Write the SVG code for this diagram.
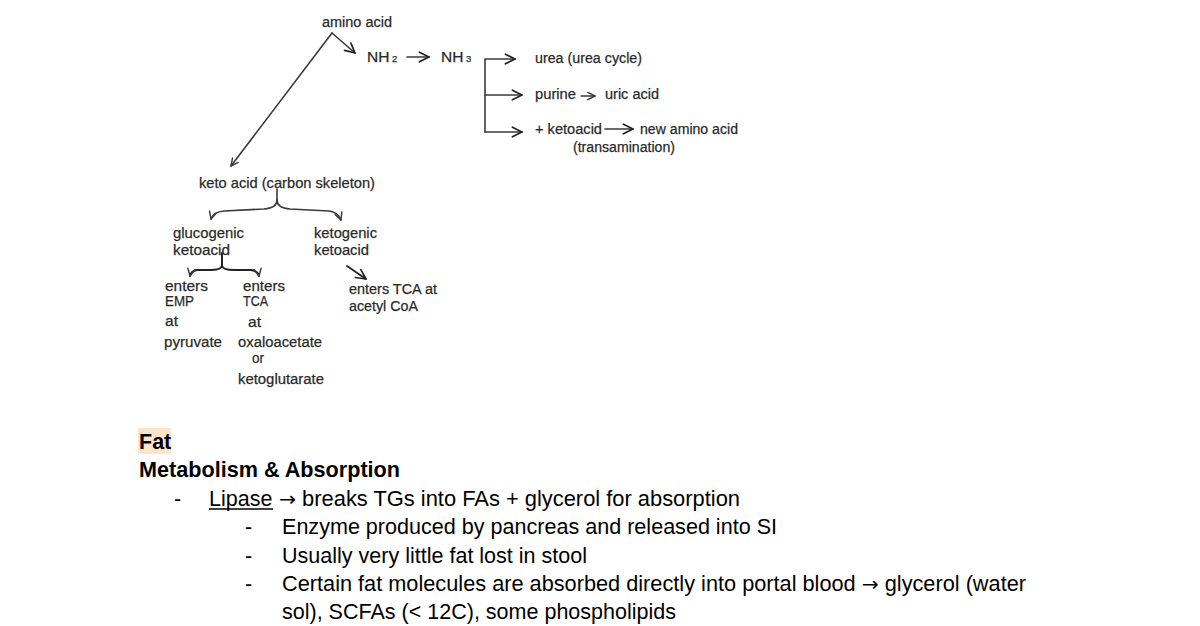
<svg xmlns="http://www.w3.org/2000/svg" width="1200" height="626" viewBox="0 0 1200 626">
<style>
.d{font-family:"Liberation Sans",Arial,sans-serif;font-size:15.5px;fill:#262626;stroke:#333;stroke-width:0.25}
.s{font-size:9.5px}
.b{font-family:"Liberation Sans",Arial,"DejaVu Sans",sans-serif;font-size:21.5px;fill:#000}
.bold{font-weight:bold}
.arr{font-family:"DejaVu Sans",sans-serif;font-size:20px}
.ln{fill:none;stroke:#3a3a3a;stroke-width:1.6;stroke-linecap:round;stroke-linejoin:round}
</style>
<defs>
<marker id="ah" viewBox="0 0 10 10" refX="9" refY="5" markerWidth="9" markerHeight="9" markerUnits="userSpaceOnUse" orient="auto">
<path d="M1,1 L9,5 L1,9" fill="none" stroke="#3a3a3a" stroke-width="1.6" stroke-linecap="round" stroke-linejoin="round"/>
</marker>
<marker id="ahs" viewBox="0 0 10 10" refX="9" refY="5" markerWidth="12" markerHeight="12" markerUnits="userSpaceOnUse" orient="auto">
<path d="M1,1 L9,5 L1,9" fill="none" stroke="#222" stroke-width="1.4" stroke-linecap="round" stroke-linejoin="round"/>
</marker>
</defs>
<rect width="1200" height="626" fill="#fff"/>
<g id="connectors">
<path class="ln" d="M332,33 L231,166" marker-end="url(#ah)"/>
<path class="ln" d="M332,33 L355,53" marker-end="url(#ahs)"/>
<path class="ln" d="M407,57 L429,57" marker-end="url(#ahs)"/>
<path class="ln" d="M485,132 L485,59 L515,59" marker-end="url(#ahs)"/>
<path class="ln" d="M485,95 L522,95" marker-end="url(#ahs)"/>
<path class="ln" d="M485,132 L522,132" marker-end="url(#ahs)"/>
<path class="ln" d="M581,96 L595,96" marker-end="url(#ah)"/>
<path class="ln" d="M605,129 L633,129" marker-end="url(#ahs)"/>
<path class="ln" d="M277,189 L277,200 Q277,208 264,209 L224,211 Q213,212 211,219" marker-end="url(#ah)"/>
<path class="ln" d="M277,200 Q277,208 290,209 L329,211 Q338,212 341,220" marker-end="url(#ah)"/>
<path class="ln" d="M222,253 L222,266 Q221,270 210,270 L197,270 Q191,271 190,276" marker-end="url(#ah)" style="stroke:#222;stroke-width:2"/>
<path class="ln" d="M222,266 Q223,270 234,270 L251,270 Q258,271 259,276" marker-end="url(#ah)" style="stroke:#222;stroke-width:2"/>
<path class="ln" d="M347,266 L366,279" marker-end="url(#ahs)" style="stroke:#222;stroke-width:1.8"/>
</g>
<g id="amino-acid"><text class="d" x="322" y="27" textLength="70" lengthAdjust="spacingAndGlyphs">amino acid</text></g>
<g id="nh2"><text class="d" x="367" y="62">NH<tspan class="s"> 2</tspan></text></g>
<g id="nh3"><text class="d" x="441" y="62">NH<tspan class="s"> 3</tspan></text></g>
<g id="urea"><text class="d" x="535" y="63" textLength="107" lengthAdjust="spacingAndGlyphs">urea (urea cycle)</text></g>
<g id="purine"><text class="d" x="535" y="99" textLength="41" lengthAdjust="spacingAndGlyphs">purine</text>
<text class="d" x="605" y="99" textLength="54" lengthAdjust="spacingAndGlyphs">uric acid</text></g>
<g id="transamination"><text class="d" x="535" y="134" textLength="67" lengthAdjust="spacingAndGlyphs">+ ketoacid</text>
<text class="d" x="640" y="134" textLength="98" lengthAdjust="spacingAndGlyphs">new amino acid</text>
<text class="d" x="573" y="152" textLength="102" lengthAdjust="spacingAndGlyphs">(transamination)</text></g>
<g id="keto-acid"><text class="d" x="199" y="188" textLength="176" lengthAdjust="spacingAndGlyphs">keto acid (carbon skeleton)</text></g>
<g id="glucogenic"><text class="d" x="173" y="238" textLength="71" lengthAdjust="spacingAndGlyphs">glucogenic</text>
<text class="d" x="173" y="255" textLength="57" lengthAdjust="spacingAndGlyphs">ketoacid</text></g>
<g id="ketogenic"><text class="d" x="314" y="238" textLength="63" lengthAdjust="spacingAndGlyphs">ketogenic</text>
<text class="d" x="314" y="255" textLength="55" lengthAdjust="spacingAndGlyphs">ketoacid</text></g>
<g id="emp"><text class="d" x="165" y="291" textLength="43" lengthAdjust="spacingAndGlyphs">enters</text>
<text class="d" x="165" y="306" textLength="29" lengthAdjust="spacingAndGlyphs">EMP</text>
<text class="d" x="165" y="326" textLength="13" lengthAdjust="spacingAndGlyphs">at</text>
<text class="d" x="164" y="347" textLength="58" lengthAdjust="spacingAndGlyphs">pyruvate</text></g>
<g id="tca"><text class="d" x="243" y="291" textLength="42" lengthAdjust="spacingAndGlyphs">enters</text>
<text class="d" x="243" y="306" textLength="25" lengthAdjust="spacingAndGlyphs">TCA</text>
<text class="d" x="248" y="327" textLength="13" lengthAdjust="spacingAndGlyphs">at</text>
<text class="d" x="238" y="347" textLength="84" lengthAdjust="spacingAndGlyphs">oxaloacetate</text>
<text class="d" x="252" y="363" textLength="12" lengthAdjust="spacingAndGlyphs">or</text>
<text class="d" x="238" y="384" textLength="86" lengthAdjust="spacingAndGlyphs">ketoglutarate</text></g>
<g id="acetyl"><text class="d" x="349" y="294" textLength="88" lengthAdjust="spacingAndGlyphs">enters TCA at</text>
<text class="d" x="349" y="311" textLength="69" lengthAdjust="spacingAndGlyphs">acetyl CoA</text></g>
<g id="notes">
<rect x="138" y="428" width="33" height="26" fill="#fce5cd"/>
<text class="b bold" x="139" y="449">Fat</text>
<text class="b bold" x="139" y="477" textLength="261" lengthAdjust="spacingAndGlyphs">Metabolism &amp; Absorption</text>
<text class="b" x="174" y="506">-</text>
<text class="b" x="209" y="506">Lipase</text>
<line x1="209" y1="509" x2="273" y2="509" stroke="#000" stroke-width="1.5"/>
<text class="b" x="279" y="506" textLength="461" lengthAdjust="spacingAndGlyphs"><tspan class="arr">→</tspan> breaks TGs into FAs + glycerol for absorption</text>
<text class="b" x="245" y="534">-</text>
<text class="b" x="282" y="534" textLength="495" lengthAdjust="spacingAndGlyphs">Enzyme produced by pancreas and released into SI</text>
<text class="b" x="245" y="563">-</text>
<text class="b" x="282" y="563" textLength="305" lengthAdjust="spacingAndGlyphs">Usually very little fat lost in stool</text>
<text class="b" x="245" y="591">-</text>
<text class="b" x="282" y="591" textLength="744" lengthAdjust="spacingAndGlyphs">Certain fat molecules are absorbed directly into portal blood <tspan class="arr">→</tspan> glycerol (water</text>
<text class="b" x="282" y="619" textLength="394" lengthAdjust="spacingAndGlyphs">sol), SCFAs (&lt; 12C), some phospholipids</text>
</g>
</svg>
